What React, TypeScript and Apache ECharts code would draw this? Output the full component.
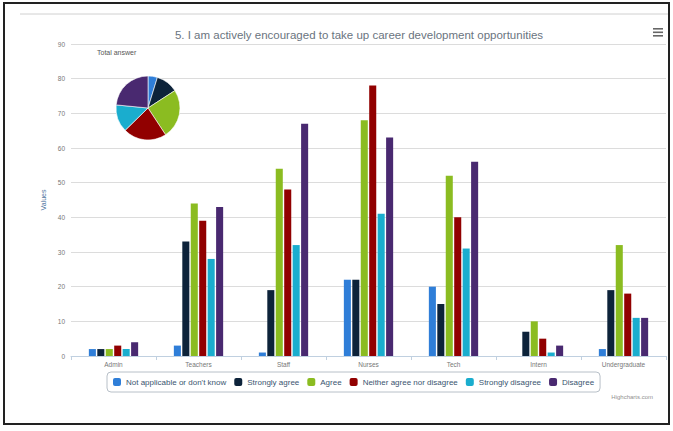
import React, { useEffect, useRef } from "react";
import * as echarts from "echarts";

const titleText = "5. I am actively encouraged to take up career development opportunities";
const categories = ["Admin", "Teachers", "Staff", "Nurses", "Tech", "Intern", "Undergraduate"];
const seriesNames = [
  "Not applicable or don't know",
  "Strongly agree",
  "Agree",
  "Neither agree nor disagree",
  "Strongly disagree",
  "Disagree",
];
const colors = ["#2f7ed8", "#0d233a", "#8bbc21", "#910000", "#1aadce", "#492970"];
const notApplicable = [2, 3, 1, 22, 20, 0, 2];
const stronglyAgree = [2, 33, 19, 22, 15, 7, 19];
const agree = [2, 44, 54, 68, 52, 10, 32];
const neither = [3, 39, 48, 78, 40, 5, 18];
const stronglyDisagree = [2, 28, 32, 41, 31, 1, 11];
const disagree = [4, 43, 67, 63, 56, 3, 11];
const yTicks = { min: 0, max: 90, interval: 10 };

const seriesValues = [notApplicable, stronglyAgree, agree, neither, stronglyDisagree, disagree];

export default function App() {
  const ref = useRef<HTMLDivElement>(null);
  useEffect(() => {
    if (!ref.current) return;
    const chart = echarts.init(ref.current, undefined, { renderer: "svg" });
    const font = "'Liberation Sans', Arial, sans-serif";
    const pieData = seriesNames.map((n, i) => ({
      name: n,
      value: seriesValues[i].reduce((a, b) => a + b, 0),
      itemStyle: { color: colors[i] },
    }));
    chart.setOption({
      animation: false,
      textStyle: { fontFamily: font },
      color: colors,
      title: {
        text: titleText,
        left: 354,
        textAlign: "center",
        top: 24,
        textStyle: { fontSize: 11.5, fontWeight: "normal", color: "#6a7480", fontFamily: font },
      },
      grid: { left: 71, right: 7, top: 44, bottom: 75, containLabel: false },
      legend: {
        data: seriesNames,
        left: 107,
        top: 372,
        width: 500,
        orient: "horizontal",
        itemWidth: 8,
        itemHeight: 8,
        itemGap: 8,
        icon: "roundRect",
        borderColor: "#b8c0c8",
        borderWidth: 1,
        borderRadius: 4,
        padding: [6, 6, 6, 6],
        textStyle: { fontSize: 8, color: "#3a5570", fontFamily: font },
      },
      xAxis: {
        type: "category",
        data: categories,
        axisLine: { lineStyle: { color: "#C0D0E0" } },
        axisTick: { show: true, length: 4, lineStyle: { color: "#C0D0E0" } },
        axisLabel: { fontSize: 6.5, color: "#777", margin: 5 },
      },
      yAxis: {
        type: "value",
        min: yTicks.min,
        max: yTicks.max,
        interval: yTicks.interval,
        name: "Values",
        nameLocation: "middle",
        nameGap: 21,
        nameTextStyle: { fontSize: 7, color: "#4d759e" },
        axisLabel: { fontSize: 6.5, color: "#777", margin: 6 },
        splitLine: { lineStyle: { color: "#dcdcdc" } },
        axisLine: { show: false },
        axisTick: { show: false },
      },
      series: [
        ...seriesNames.map((n, i) => ({
          name: n,
          type: "bar",
          data: seriesValues[i],
          barCategoryGap: "42%",
          barGap: "20%",
          itemStyle: { color: colors[i] },
        })),
        {
          name: "Total answer",
          type: "pie",
          center: [148, 108],
          radius: 32,
          startAngle: 90,
          clockwise: true,
          label: { show: false },
          labelLine: { show: false },
          itemStyle: { borderColor: "#fff", borderWidth: 0.6 },
          data: pieData,
          z: 5,
        },
      ],
      graphic: [
        { type: "rect", shape: { x: 4, y: 3, width: 665, height: 421 }, style: { fill: "none", stroke: "#222", lineWidth: 2 }, silent: true },
        { type: "line", shape: { x1: 20, y1: 14, x2: 668, y2: 14 }, style: { stroke: "#d0d0d0", lineWidth: 1 } },
        { type: "text", left: 97, top: 49, style: { text: "Total answer", fontSize: 7, fill: "#555", fontFamily: font } },
        { type: "rect", shape: { x: 653, y: 28, width: 10, height: 1.6 }, style: { fill: "#666" } },
        { type: "rect", shape: { x: 653, y: 31.5, width: 10, height: 1.6 }, style: { fill: "#666" } },
        { type: "rect", shape: { x: 653, y: 35, width: 10, height: 1.6 }, style: { fill: "#666" } },
        { type: "text", right: 20, top: 394, style: { text: "Highcharts.com", fontSize: 6, fill: "#909090", fontFamily: font } },
      ],
    });
    return () => chart.dispose();
  }, []);
  return (
    <div style={{ position: "fixed", left: 0, top: 0, width: 673, height: 431, background: "#fff" }}>
      <div ref={ref} style={{ width: 673, height: 431 }} />
    </div>
  );
}
